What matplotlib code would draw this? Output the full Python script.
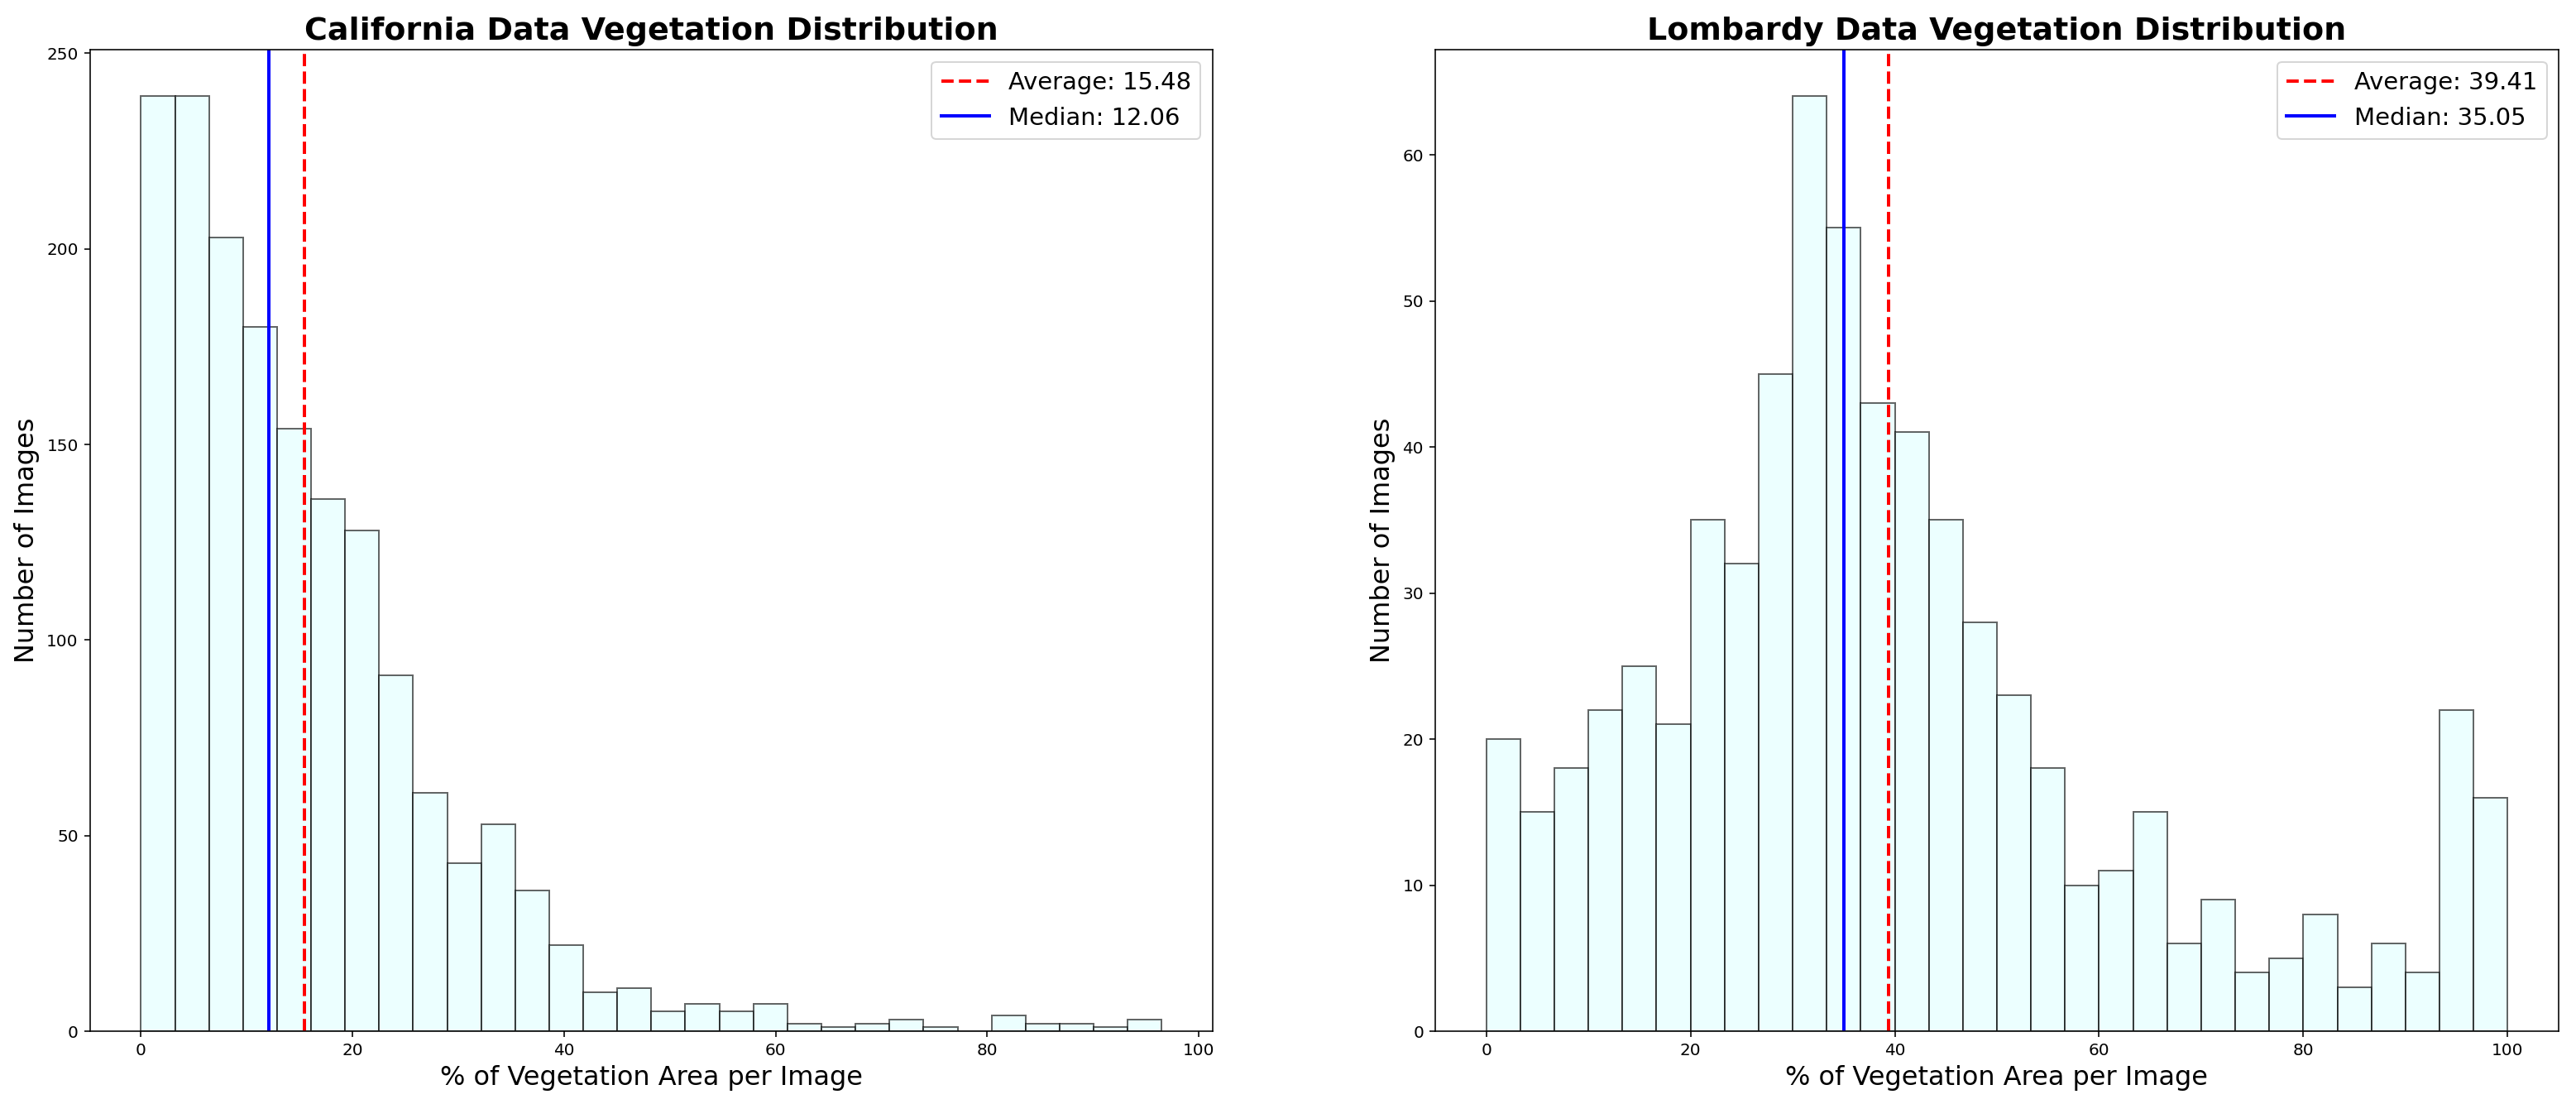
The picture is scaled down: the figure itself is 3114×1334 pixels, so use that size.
import matplotlib
matplotlib.use("Agg")
import matplotlib.pyplot as plt
import numpy as np

# histogram counts (30 bins each)
cal_counts = [239, 239, 203, 180, 154, 136, 128, 91, 61, 43,
              53, 36, 22, 10, 11, 5, 7, 5, 7, 2,
              1, 2, 3, 1, 0, 4, 2, 2, 1, 3]
cal_range = (0.0, 96.5)
cal_mean = 15.48
cal_median = 12.06

lom_counts = [20, 15, 18, 22, 25, 21, 35, 32, 45, 64,
              55, 43, 41, 35, 28, 23, 18, 10, 11, 15,
              6, 9, 4, 5, 8, 3, 6, 4, 22, 16]
lom_range = (0.0, 100.0)
lom_mean = 39.41
lom_median = 35.05

titles = ["California Data Vegetation Distribution",
          "Lombardy Data Vegetation Distribution"]


def draw_hist(ax, counts, rng, mean, median, title):
    edges = np.linspace(rng[0], rng[1], len(counts) + 1)
    ax.hist(edges[:-1], bins=edges, weights=counts,
            color='lightcyan', edgecolor='black', alpha=0.6)
    ax.axvline(mean, color='red', linestyle='--', linewidth=2,
               label='Average: {:.2f}'.format(mean))
    ax.axvline(median, color='blue', linestyle='-', linewidth=2,
               label='Median: {:.2f}'.format(median))
    ax.set_title(title, fontsize=19, fontweight='bold')
    ax.set_xlabel('% of Vegetation Area per Image', fontsize=16)
    ax.set_ylabel('Number of Images', fontsize=16)
    ax.legend(fontsize=14.5, loc='upper right')


W, H = 3114, 1334
fig = plt.figure(figsize=(W / 144, H / 144), dpi=144)
ax1 = fig.add_axes([108.7 / W, 1 - 1246 / H, (1466 - 108.7) / W, 1186 / H])
ax2 = fig.add_axes([1735 / W, 1 - 1246 / H, (3093 - 1735) / W, 1186 / H])

draw_hist(ax1, cal_counts, cal_range, cal_mean, cal_median, titles[0])
draw_hist(ax2, lom_counts, lom_range, lom_mean, lom_median, titles[1])

fig.savefig('out.png', dpi=144)
